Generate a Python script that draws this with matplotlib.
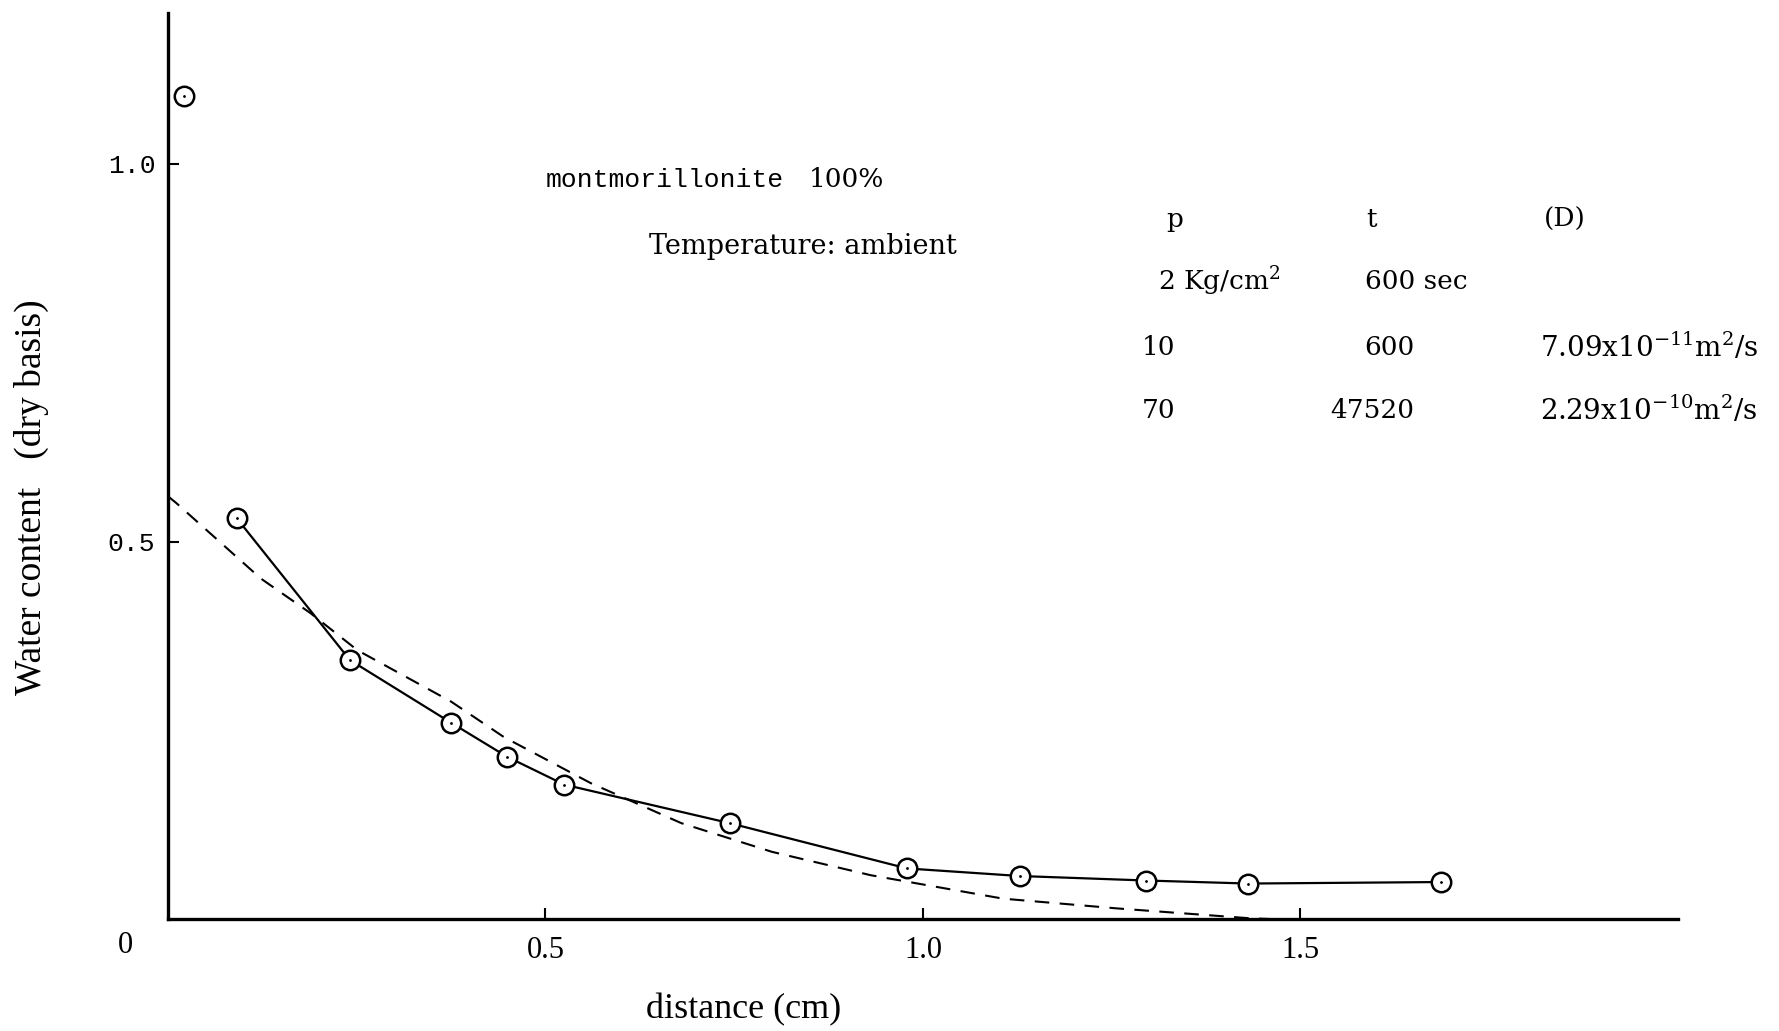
import matplotlib
matplotlib.use("Agg")
import matplotlib.pyplot as plt

# measured water content along the sample
dist = [0.021, 0.091, 0.241, 0.375, 0.449, 0.525, 0.744, 0.979, 1.128, 1.296, 1.431, 1.686]
water = [1.090, 0.531, 0.343, 0.260, 0.215, 0.178, 0.127, 0.067, 0.057, 0.051, 0.047, 0.049]

# calculated diffusion profile (dashed)
calc_x = [0.0, 0.011, 0.123, 0.189, 0.251, 0.375, 0.445, 0.560, 0.680, 0.800, 0.931, 1.106, 1.258, 1.433, 1.46]
calc_y = [0.560, 0.551, 0.451, 0.405, 0.356, 0.288, 0.241, 0.180, 0.127, 0.089, 0.058, 0.027, 0.014, 0.001, 0.0]

xticks = [0.5, 1.0, 1.5]
xticklabels = ["0.5", "1.0", "1.5"]
yticks = [0.5, 1.0]
yticklabels = ["0.5", "1.0"]

# run conditions table
col_heads = ["p", "t", "(D)"]
p_vals = ["2 Kg/cm$^2$", "10", "70"]
t_vals = ["600 sec", "600", "47520"]
d_vals = ["", "7.09x10$^{-11}$m$^2$/s", "2.29x10$^{-10}$m$^2$/s"]

plt.rcParams["mathtext.fontset"] = "dejavuserif"
plt.rcParams["mathtext.default"] = "regular"
serif = "Liberation Serif"
wide = "DejaVu Serif"
mono = "Liberation Mono"

fig = plt.figure(figsize=(17.79, 10.31), dpi=100)
ax = fig.add_axes([0.0944, 0.1086, 0.8488, 0.8788])

ax.plot(calc_x, calc_y, color="black", lw=1.5, dashes=(7, 5))
ax.plot(dist[1:], water[1:], color="black", lw=1.6)
ax.plot(dist, water, "o", ms=14, mfc="white", mec="black", mew=1.8)
ax.plot(dist, water, ".", ms=2, color="black")

ax.set_xlim(0, 2.0)
ax.set_ylim(0, 1.2)
for s in ["top", "right"]:
    ax.spines[s].set_visible(False)
for s in ["left", "bottom"]:
    ax.spines[s].set_linewidth(2.4)

ax.tick_params(axis="x", direction="in", length=8, width=1.5, pad=12)
ax.tick_params(axis="y", direction="in", length=8, width=1.5, pad=9)
ax.set_xticks(xticks)
ax.set_xticklabels(xticklabels, fontfamily=serif, fontsize=22)
ax.set_yticks(yticks)
ax.set_yticklabels(yticklabels, fontfamily=mono, fontsize=19)

ax.text(-0.056, -0.035, "0", fontfamily=serif, fontsize=22, ha="center", va="center", clip_on=False)
ax.set_xlabel("distance (cm)", fontfamily=serif, fontsize=26, va="center")
ax.xaxis.set_label_coords(0.381, -0.100)
ax.set_ylabel("Water content   (dry basis)", fontfamily=serif, fontsize=27, va="center")
ax.yaxis.set_label_coords(-0.0907, 0.466)

ax.text(0.501, 0.979, "montmorillonite", fontfamily=mono, fontsize=19, va="center")
ax.text(0.849, 0.979, "100%", fontfamily=wide, fontsize=19, va="center")
ax.text(0.637, 0.891, "Temperature: ambient", fontfamily=wide, fontsize=19.5, va="center")

col_x = [1.322, 1.587, 1.823]
for cx, h in zip(col_x, col_heads):
    ax.text(cx, 0.927, h, fontfamily=wide, fontsize=19, va="center")

row_y = [0.845, 0.757, 0.674]
p_x = [1.311, 1.290, 1.290]
t_x = [1.585, 1.585, 1.540]
for ry, px, p, tx, t, d in zip(row_y, p_x, p_vals, t_x, t_vals, d_vals):
    ax.text(px, ry, p, fontfamily=wide, fontsize=19, va="center")
    ax.text(tx, ry, t, fontfamily=wide, fontsize=19, va="center")
    if d:
        ax.text(1.817, ry, d, fontfamily=wide, fontsize=20, va="center")

fig.savefig("out.png", dpi=100)
